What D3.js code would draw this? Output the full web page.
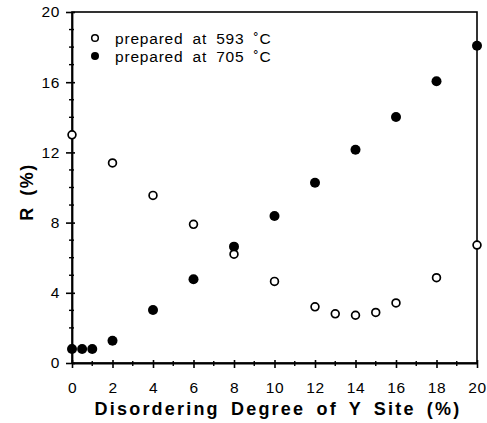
<!DOCTYPE html>
<html>
<head>
<meta charset="utf-8">
<script src="https://cdn.jsdelivr.net/npm/d3@7"></script>
<style>
  body { margin: 0; background: #fff; }
  svg text { font-family: "Liberation Sans", Arial, sans-serif; fill: #000; }
</style>
</head>
<body>
<svg id="chart"></svg>
<script>
// data
let xOpen = [0, 2, 4, 6, 8, 10, 12, 13, 14, 15, 16, 18, 20];
let rOpen = [13.0, 11.4, 9.55, 7.9, 6.2, 4.65, 3.2, 2.8, 2.72, 2.88, 3.42, 4.86, 6.72];
let xFilled = [0, 0.5, 1, 2, 4, 6, 8, 10, 12, 14, 16, 18, 20];
let rFilled = [0.8, 0.8, 0.8, 1.27, 3.02, 4.77, 6.63, 8.38, 10.27, 12.15, 14.02, 16.05, 18.08];
let seriesLabels = ["prepared at 593 \u02daC", "prepared at 705 \u02daC"];
let xTicks = [0, 2, 4, 6, 8, 10, 12, 14, 16, 18, 20];
let yTicks = [0, 4, 8, 12, 16, 20];

let width = 487, height = 423;
let margin = {top: 12, right: 10, bottom: 60, left: 72};
let w = 477 - margin.left;
let h = 363 - margin.top;

let svg = d3.select('#chart')
    .attr("width", width)
    .attr("height", height);

let g = svg.append("g")
    .attr("transform", "translate(" + margin.left + "," + margin.top + ")");

let x = d3.scaleLinear().domain([0, 20]).range([0, w]);
let y = d3.scaleLinear().domain([0, 20]).range([h, 0]);

// frame
g.append("rect")
    .attr("x", 0).attr("y", 0)
    .attr("width", w).attr("height", h)
    .style("fill", "none")
    .style("stroke", "#000")
    .style("stroke-width", 1.6);

// minor ticks
let xMinor = d3.range(1, 20, 2);
let yMinor = d3.range(0, 21).filter(v => v % 4 != 0);

g.selectAll(".xminor").data(xMinor).enter().append("line")
    .attr("x1", d => x(d)).attr("x2", d => x(d))
    .attr("y1", h - 2).attr("y2", h + 3)
    .style("stroke", "#000").style("stroke-width", 1.4);

g.selectAll(".yminor").data(yMinor).enter().append("line")
    .attr("x1", -3).attr("x2", 2)
    .attr("y1", d => y(d)).attr("y2", d => y(d))
    .style("stroke", "#000").style("stroke-width", 1.4);

// axes
let xAxis = g.append("g")
    .attr("transform", "translate(0," + h + ")")
    .call(d3.axisBottom(x).tickValues(xTicks).tickSizeInner(5).tickSizeOuter(0).tickPadding(14));
let yAxis = g.append("g")
    .call(d3.axisLeft(y).tickValues(yTicks).tickSizeInner(6).tickSizeOuter(0).tickPadding(6));

[xAxis, yAxis].forEach(function (a) {
    a.select(".domain").style("stroke", "#000").style("stroke-width", 1.8);
    a.selectAll(".tick line").style("stroke", "#000").style("stroke-width", 1.6);
    a.selectAll(".tick text")
        .style("font-size", "15.5px")
        .style("letter-spacing", "0.6px")
        .style("font-family", "Liberation Sans, Arial, sans-serif");
});
// make major ticks cross the axis a little
xAxis.selectAll(".tick line").attr("y1", -3);
yAxis.selectAll(".tick line").attr("x1", 3);

// points
g.selectAll(".filled").data(xFilled).enter().append("circle")
    .attr("cx", (d, i) => x(d))
    .attr("cy", (d, i) => y(rFilled[i]))
    .attr("r", 5)
    .style("fill", "#000");

g.selectAll(".open").data(xOpen).enter().append("circle")
    .attr("cx", (d, i) => x(d))
    .attr("cy", (d, i) => y(rOpen[i]))
    .attr("r", 3.9)
    .style("fill", "#fff")
    .style("stroke", "#000")
    .style("stroke-width", 1.7);

// legend
let legend = svg.append("g");
seriesLabels.forEach(function (lab, i) {
    let ly = 38 + i * 18;
    let c = legend.append("circle")
        .attr("cx", 95).attr("cy", ly)
        .attr("r", i == 0 ? 3.3 : 4);
    if (i == 0) c.style("fill", "#fff").style("stroke", "#000").style("stroke-width", 1.5);
    else c.style("fill", "#000");
    legend.append("text")
        .attr("x", 115).attr("y", ly + 5.5)
        .style("font-size", "15.5px")
        .style("letter-spacing", "0.8px")
        .style("word-spacing", "4px")
        .text(lab);
});

// axis titles
svg.append("text")
    .attr("x", 278).attr("y", 415)
    .attr("text-anchor", "middle")
    .style("font-size", "18px")
    .style("font-weight", "bold")
    .style("letter-spacing", "2.2px")
    .style("word-spacing", "4px")
    .text("Disordering Degree of Y Site (%)");

svg.append("text")
    .attr("transform", "translate(33,192) rotate(-90)")
    .attr("text-anchor", "middle")
    .style("font-size", "18px")
    .style("font-weight", "bold")
    .style("letter-spacing", "1.5px")
    .style("word-spacing", "4px")
    .text("R (%)");
</script>
</body>
</html>
